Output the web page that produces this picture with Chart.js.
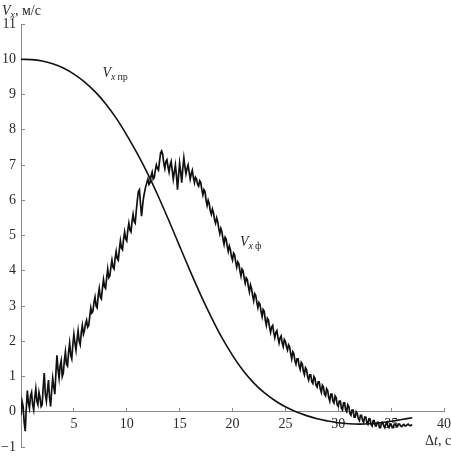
<!DOCTYPE html>
<html>
<head>
<meta charset="utf-8">
<script src="https://cdn.jsdelivr.net/npm/chart.js@4.4.0/dist/chart.umd.min.js"></script>
<style>
  html, body { margin: 0; padding: 0; background: #fff; }
  #wrap { width: 451px; height: 456px; }
</style>
</head>
<body>
<div id="wrap"><canvas id="c" width="451" height="456"></canvas></div>
<script>
// ---- data ----
const xTicks = [0, 5, 10, 15, 20, 25, 30, 35, 40];
const yTicks = [-1, 0, 1, 2, 3, 4, 5, 6, 7, 8, 9, 10, 11];

// programmed velocity V_x пр
const prTime = [0,1,2,3,4,5,6,7,8,9,10,11,12,13,14,15,16,17,18,19,20,21,22,23,24,25,26,27,28,29,30,31,32,33,34,35,36,37];
const prValue = [10.0,9.99,9.95,9.87,9.75,9.58,9.36,9.08,8.74,8.33,7.85,7.32,6.74,6.1,5.41,4.7,3.99,3.31,2.68,2.1,1.6,1.17,0.82,0.54,0.32,0.14,0.0,-0.11,-0.2,-0.26,-0.31,-0.34,-0.35,-0.34,-0.31,-0.27,-0.22,-0.17];

// actual velocity V_x ф (sample times, s)
const fTime = [
  0,0.1,0.2,0.3,0.4,0.5,0.6,0.7,0.8,0.9,
  1,1.1,1.2,1.3,1.4,1.5,1.6,1.7,1.8,1.9,
  2,2.1,2.2,2.3,2.4,2.5,2.6,2.7,2.8,2.9,
  3,3.1,3.2,3.3,3.4,3.5,3.6,3.7,3.8,3.9,
  4,4.1,4.2,4.3,4.4,4.5,4.6,4.7,4.8,4.9,
  5,5.1,5.2,5.3,5.4,5.5,5.6,5.7,5.8,5.9,
  6,6.1,6.2,6.3,6.4,6.5,6.6,6.7,6.8,6.9,
  7,7.1,7.2,7.3,7.4,7.5,7.6,7.7,7.8,7.9,
  8,8.1,8.2,8.3,8.4,8.5,8.6,8.7,8.8,8.9,
  9,9.1,9.2,9.3,9.4,9.5,9.6,9.7,9.8,9.9,
  10,10.1,10.2,10.3,10.4,10.5,10.6,10.7,10.8,10.9,
  11,11.1,11.2,11.3,11.4,11.5,11.6,11.7,11.8,11.9,
  12,12.1,12.2,12.3,12.4,12.5,12.6,12.7,12.8,12.9,
  13,13.1,13.2,13.3,13.4,13.5,13.6,13.7,13.8,13.9,
  14,14.1,14.2,14.3,14.4,14.5,14.6,14.7,14.8,14.9,
  15,15.1,15.2,15.3,15.4,15.5,15.6,15.7,15.8,15.9,
  16,16.1,16.2,16.3,16.4,16.5,16.6,16.7,16.8,16.9,
  17,17.1,17.2,17.3,17.4,17.5,17.6,17.7,17.8,17.9,
  18,18.1,18.2,18.3,18.4,18.5,18.6,18.7,18.8,18.9,
  19,19.1,19.2,19.3,19.4,19.5,19.6,19.7,19.8,19.9,
  20,20.1,20.2,20.3,20.4,20.5,20.6,20.7,20.8,20.9,
  21,21.1,21.2,21.3,21.4,21.5,21.6,21.7,21.8,21.9,
  22,22.1,22.2,22.3,22.4,22.5,22.6,22.7,22.8,22.9,
  23,23.1,23.2,23.3,23.4,23.5,23.6,23.7,23.8,23.9,
  24,24.1,24.2,24.3,24.4,24.5,24.6,24.7,24.8,24.9,
  25,25.1,25.2,25.3,25.4,25.5,25.6,25.7,25.8,25.9,
  26,26.1,26.2,26.3,26.4,26.5,26.6,26.7,26.8,26.9,
  27,27.1,27.2,27.3,27.4,27.5,27.6,27.7,27.8,27.9,
  28,28.1,28.2,28.3,28.4,28.5,28.6,28.7,28.8,28.9,
  29,29.1,29.2,29.3,29.4,29.5,29.6,29.7,29.8,29.9,
  30,30.1,30.2,30.3,30.4,30.5,30.6,30.7,30.8,30.9,
  31,31.1,31.2,31.3,31.4,31.5,31.6,31.7,31.8,31.9,
  32,32.1,32.2,32.3,32.4,32.5,32.6,32.7,32.8,32.9,
  33,33.1,33.2,33.3,33.4,33.5,33.6,33.7,33.8,33.9,
  34,34.1,34.2,34.3,34.4,34.5,34.6,34.7,34.8,34.9,
  35,35.1,35.2,35.3,35.4,35.5,35.6,35.7,35.8,35.9,
  36,36.1,36.2,36.3,36.4,36.5,36.6,36.7,36.8,36.9,
  37
];
const fValue = [
  -0.1,0.3,0.15,-0.3,-0.55,0.1,0.6,0.25,0.1,0.45,
  0.55,0.2,0.05,0.4,0.65,0.3,0.2,0.55,0.4,0.15,
  0.2,0.7,1.1,0.5,0.3,0.6,0.9,0.4,0.15,0.6,
  0.95,0.7,0.5,1.1,1.6,1.2,0.95,1.3,1.45,1.0,
  1.1,1.45,1.7,1.35,1.3,1.7,1.95,1.6,1.5,1.9,
  2.2,1.95,1.75,2.05,2.3,2.0,1.9,2.25,2.45,2.2,
  2.3,2.5,2.6,2.4,2.45,2.7,2.95,2.8,2.85,3.1,
  3.25,3.0,2.95,3.3,3.5,3.25,3.2,3.5,3.75,3.55,
  3.5,3.8,4.05,3.8,3.85,4.1,4.3,4.1,4.05,4.35,
  4.55,4.35,4.3,4.6,4.85,4.65,4.6,4.9,5.1,4.9,
  4.85,5.15,5.35,5.15,5.1,5.4,5.6,5.4,5.35,5.7,
  6.0,6.25,6.3,5.9,5.55,5.85,6.1,6.25,6.4,6.5,
  6.6,6.45,6.5,6.7,6.8,6.6,6.65,6.85,7.0,6.9,
  6.85,7.1,7.35,7.4,7.3,7.05,6.9,7.1,7.15,6.95,
  6.8,7.0,7.1,6.85,6.6,6.8,7.0,6.7,6.3,6.7,
  7.05,6.8,6.5,6.9,7.2,6.95,6.75,6.9,7.0,6.8,
  6.6,6.75,6.85,6.65,6.5,6.65,6.6,6.45,6.4,6.55,
  6.5,6.3,6.15,6.3,6.25,6.0,5.85,6.0,5.9,5.7,
  5.6,5.75,5.65,5.45,5.35,5.5,5.4,5.2,5.05,5.2,
  5.1,4.9,4.75,4.95,4.9,4.7,4.55,4.7,4.6,4.4,
  4.3,4.5,4.45,4.25,4.1,4.25,4.2,4.0,3.85,4.05,
  4.0,3.8,3.65,3.8,3.75,3.55,3.4,3.6,3.5,3.3,
  3.15,3.35,3.3,3.1,2.95,3.1,3.05,2.85,2.7,2.9,
  2.85,2.6,2.45,2.65,2.6,2.4,2.25,2.4,2.45,2.25,
  2.1,2.25,2.3,2.1,1.95,2.1,2.15,1.95,1.85,2.05,
  2.0,1.85,1.75,1.9,1.85,1.65,1.5,1.7,1.65,1.45,
  1.35,1.5,1.5,1.3,1.2,1.4,1.35,1.15,1.05,1.25,
  1.2,1.0,0.9,1.05,1.05,0.85,0.8,1.0,0.95,0.75,
  0.7,0.85,0.85,0.65,0.55,0.75,0.7,0.5,0.45,0.65,
  0.6,0.4,0.3,0.5,0.5,0.3,0.25,0.45,0.4,0.2,
  0.15,0.3,0.3,0.1,0.05,0.25,0.25,0.05,0.0,0.2,
  0.15,-0.05,-0.1,0.05,0.05,-0.15,-0.15,0.0,-0.05,-0.2,
  -0.25,-0.1,-0.1,-0.25,-0.3,-0.15,-0.15,-0.3,-0.35,-0.2,
  -0.2,-0.35,-0.4,-0.25,-0.25,-0.4,-0.4,-0.3,-0.3,-0.45,
  -0.45,-0.3,-0.3,-0.4,-0.45,-0.35,-0.3,-0.42,-0.45,-0.35,
  -0.35,-0.45,-0.45,-0.35,-0.35,-0.42,-0.42,-0.35,-0.35,-0.4,
  -0.42,-0.38,-0.36,-0.4,-0.4,-0.37,-0.35,-0.38,-0.4,-0.38,
  -0.37
];

// ---- chart ----
const SERIF = 'Liberation Serif';
const AXIS = '#8a8a8a';
const TEXT = '#2a2a2a';

function toPoints(t, v) { return t.map((x, i) => ({ x: x, y: v[i] })); }

function drawRich(ctx, x, y, parts) {
  let cx = x;
  parts.forEach(p => {
    ctx.font = p.font;
    ctx.fillText(p.t, cx, y + (p.dy || 0));
    cx += ctx.measureText(p.t).width + (p.gap || 0);
  });
}

const textPlugin = {
  id: 'axisText',
  afterDraw(chart) {
    const ctx = chart.ctx;
    const xs = chart.scales.x, ys = chart.scales.y;
    const F = '"' + SERIF + '", serif';
    ctx.save();
    ctx.fillStyle = TEXT;
    ctx.textBaseline = 'alphabetic';
    ctx.textAlign = 'left';
    // y axis title
    drawRich(ctx, 2, 15, [
      { t: 'V', font: 'italic 14px ' + F },
      { t: 'x', font: 'italic 10px ' + F, dy: 3 },
      { t: ', м/с', font: '14px ' + F }
    ]);
    // x axis title
    drawRich(ctx, 425, 445, [
      { t: 'Δ', font: '14px ' + F },
      { t: 't', font: 'italic 14px ' + F },
      { t: ', с', font: '14px ' + F }
    ]);
    // curve labels
    drawRich(ctx, xs.getPixelForValue(7.7), ys.getPixelForValue(9.5), [
      { t: 'V', font: 'italic 14px ' + F },
      { t: 'x', font: 'italic 10px ' + F, dy: 3, gap: 2 },
      { t: 'пр', font: '10px ' + F, dy: 3 }
    ]);
    drawRich(ctx, xs.getPixelForValue(20.7), ys.getPixelForValue(4.7), [
      { t: 'V', font: 'italic 14px ' + F },
      { t: 'x', font: 'italic 10px ' + F, dy: 3, gap: 2 },
      { t: 'ф', font: '10px ' + F, dy: 3 }
    ]);
    ctx.restore();
  }
};

new Chart(document.getElementById('c'), {
  type: 'line',
  data: {
    datasets: [
      {
        label: 'Vx пр',
        data: toPoints(prTime, prValue),
        borderColor: '#111',
        borderWidth: 1.6,
        pointRadius: 0,
        cubicInterpolationMode: 'monotone',
        fill: false
      },
      {
        label: 'Vx ф',
        data: toPoints(fTime, fValue),
        borderColor: '#111',
        borderWidth: 1.7,
        pointRadius: 0,
        tension: 0,
        fill: false
      }
    ]
  },
  options: {
    responsive: false,
    animation: false,
    events: [],
    layout: { padding: { top: 24, right: 7, left: 0, bottom: 9 } },
    plugins: { legend: { display: false }, tooltip: { enabled: false }, title: { display: false } },
    scales: {
      x: {
        type: 'linear',
        position: { y: 0 },
        min: 0, max: 40,
        afterFit(s) { s.height = 0; s.paddingLeft = 0; s.paddingRight = 0; s.paddingTop = 0; s.paddingBottom = 0; },
        afterBuildTicks(s) { s.ticks = xTicks.map(v => ({ value: v })); },
        border: { display: true, color: AXIS, width: 1 },
        grid: { drawOnChartArea: false, drawTicks: true, tickLength: -4, color: AXIS, tickColor: AXIS },
        ticks: {
          autoSkip: false, maxRotation: 0, padding: 8,
          color: TEXT,
          font: { family: SERIF, size: 14 },
          callback: v => (v === 0 ? '' : String(v))
        }
      },
      y: {
        type: 'linear',
        position: 'left',
        min: -1, max: 11,
        afterFit(s) { s.width = 21; s.paddingTop = 0; s.paddingBottom = 0; },
        afterBuildTicks(s) { s.ticks = yTicks.map(v => ({ value: v })); },
        border: { display: true, color: AXIS, width: 1 },
        grid: { drawOnChartArea: false, drawTicks: true, tickLength: -4, color: AXIS, tickColor: AXIS },
        ticks: {
          autoSkip: false, padding: 9,
          color: TEXT,
          font: { family: SERIF, size: 14 },
          callback: v => String(v).replace('-', '−')
        }
      }
    }
  },
  plugins: [textPlugin]
});
</script>
</body>
</html>
